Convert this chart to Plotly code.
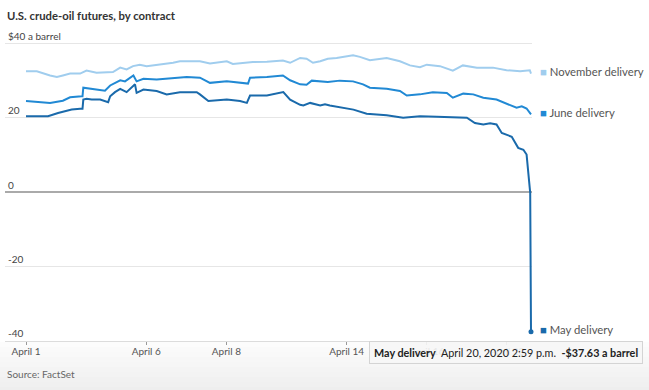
import plotly.graph_objects as go

# ---- data (x = trading-day index since April 1, 2020; y = $ per barrel) ----
nov_day = [0.00, 0.27, 0.60, 0.77, 0.92, 1.10, 1.35, 1.51, 1.76, 2.17, 2.35, 2.51, 2.67, 2.84, 3.01,
           3.34, 3.67, 3.84, 4.34, 4.59, 5.01, 5.16, 5.66, 6.01, 6.41, 6.59, 6.84, 7.00, 7.16, 7.34,
           7.53, 7.75, 8.16, 8.33, 8.58, 9.00, 9.33, 9.58, 9.83, 10.00, 10.33, 10.65, 10.90, 11.25,
           11.65, 11.99, 12.33, 12.57, 12.60]
nov_price = [32.5, 32.5, 31.4, 31.0, 31.4, 31.9, 31.9, 32.7, 32.1, 32.3, 33.5, 33.0, 33.9, 34.3, 33.9,
             34.3, 34.8, 35.2, 35.2, 34.6, 35.2, 34.5, 35.0, 35.1, 35.4, 34.8, 36.1, 35.9, 34.8, 35.2,
             35.9, 36.1, 36.8, 36.4, 35.5, 36.1, 35.2, 34.1, 33.6, 34.3, 33.9, 32.7, 34.1, 33.5,
             33.5, 32.8, 32.5, 32.8, 31.9]

jun_day = [0.00, 0.35, 0.60, 0.92, 1.10, 1.39, 1.41, 1.43, 1.72, 1.85, 1.97, 2.10, 2.22, 2.35, 2.47,
           2.59, 2.68, 2.76, 2.93, 3.26, 3.76, 4.01, 4.34, 4.59, 5.01, 5.34, 5.54, 5.59, 6.01, 6.41,
           6.59, 6.84, 7.00, 7.13, 7.34, 7.53, 7.83, 8.16, 8.41, 8.58, 9.00, 9.33, 9.50, 9.83, 10.15,
           10.50, 10.65, 10.91, 11.16, 11.41, 11.74, 11.99, 12.24, 12.37, 12.49, 12.60]
jun_price = [24.5, 24.2, 24.0, 24.6, 25.5, 25.8, 25.8, 28.1, 27.6, 27.4, 27.3, 28.7, 29.4, 30.1, 29.8,
             30.8, 31.4, 29.8, 30.5, 30.3, 30.8, 31.0, 30.8, 29.4, 29.8, 29.4, 29.2, 30.8, 31.0, 31.4,
             30.1, 29.0, 28.9, 30.0, 29.8, 29.6, 30.0, 29.8, 29.0, 28.1, 27.8, 27.2, 26.0, 26.3, 26.9,
             26.7, 25.4, 26.5, 26.3, 25.4, 24.9, 23.8, 22.7, 23.1, 22.5, 20.9]

may_day = [0.00, 0.55, 0.80, 1.14, 1.35, 1.41, 1.43, 1.51, 1.64, 1.85, 2.05, 2.10, 2.22, 2.35, 2.51,
           2.68, 2.72, 2.76, 2.93, 3.26, 3.51, 3.84, 4.26, 4.34, 4.55, 5.01, 5.34, 5.51, 5.59, 6.01,
           6.34, 6.42, 6.59, 6.84, 6.92, 7.09, 7.34, 7.46, 7.58, 7.83, 8.17, 8.50, 9.00, 9.41, 9.83,
           10.25, 10.66, 11.00, 11.20, 11.41, 11.58, 11.74, 11.87, 12.12, 12.28, 12.41, 12.49, 12.58,
           12.60]
may_price = [20.4, 20.4, 21.3, 22.2, 22.4, 22.4, 24.9, 25.1, 24.9, 24.9, 24.2, 25.8, 26.9, 27.8, 26.9,
             28.5, 29.0, 26.7, 27.6, 27.2, 26.3, 26.9, 26.9, 26.3, 24.5, 24.9, 24.5, 24.0, 26.0, 26.0,
             26.7, 26.9, 24.9, 23.5, 23.3, 24.0, 23.3, 23.6, 23.3, 22.9, 22.2, 21.1, 20.7, 20.0, 20.4,
             20.3, 20.1, 20.0, 18.6, 18.2, 18.5, 18.2, 15.9, 14.9, 11.9, 11.4, 10.1, -0.2,
             -37.63]

tick_days = [0, 3, 5, 8, 10, 12]
tick_labels = ["April 1", "April 6", "April 8", "April 14", "April 16", "April 20"]
y_tickvals = [-40, -20, 0, 20, 40]
y_ticktext = ["-40", "-20", "0", "20", "$40 a barrel"]

series_names = ["November delivery", "June delivery", "May delivery"]
series_colors = ["#a0cdee", "#2189d4", "#1a6aab"]
tooltip_time = "April 20, 2020 2:59 p.m."

FONT = "Lato"
PLOT_BOTTOM = 341.0
PLOT_H = 299.0


def paper_y(px):
    return (PLOT_BOTTOM - px) / PLOT_H


fig = go.Figure()
for name, xs, ys, col in zip(series_names,
                             [nov_day, jun_day, may_day],
                             [nov_price, jun_price, may_price],
                             series_colors):
    fig.add_trace(go.Scatter(x=xs, y=ys, mode="lines", name=name,
                             line=dict(color=col, width=2), hoverinfo="skip"))
    fig.add_annotation(x=1, xref="paper", y=ys[-1], yref="y", xanchor="left",
                       yanchor="middle", xshift=6, yshift=2, showarrow=False,
                       text=f"<span style='color:{col}'>■</span> {name}",
                       font=dict(family=FONT, size=11.3, color="#555"))

# highlighted point
fig.add_trace(go.Scatter(x=[may_day[-1]], y=[may_price[-1]], mode="markers",
                         marker=dict(color="#1a6aab", size=5), cliponaxis=False,
                         hoverinfo="skip"))

# bottom grey gradient bands (screenshot background)
n_bands = 10
for i in range(n_bands):
    y_top_px = 342 + i * 5
    y_bot_px = y_top_px + 5 if i < n_bands - 1 else 395
    g = int(252 - i * 1.5)
    fig.add_shape(type="rect", xref="paper", yref="paper", layer="below",
                  x0=-0.02, x1=1.25, y0=paper_y(y_bot_px), y1=paper_y(y_top_px),
                  line=dict(width=0), fillcolor=f"rgb({g},{g},{g})")

# tooltip (semi-transparent, like the original hover box)
val = may_price[-1]
fig.add_annotation(xref="paper", yref="paper", x=(643 - 5) / 527, y=paper_y(352.5),
                   xanchor="right", yanchor="middle", showarrow=False,
                   text=(f"<b>{series_names[2]}</b>&nbsp;&nbsp;{tooltip_time}&nbsp;&nbsp;"
                         f"<b>-${abs(val):.2f} a barrel</b>"),
                   font=dict(family=FONT, size=10.8, color="#222"),
                   bgcolor="rgba(246,246,246,0.9)", bordercolor="#d4d4d4",
                   borderwidth=1, borderpad=4)

# title & source
fig.add_annotation(xref="paper", yref="paper", x=0, y=paper_y(15), xanchor="left",
                   yanchor="middle", showarrow=False,
                   text="<b>U.S. crude-oil futures, by contract</b>",
                   font=dict(family=FONT, size=11.3, color="#333"))
fig.add_annotation(xref="paper", yref="paper", x=0, y=paper_y(374),
                   xanchor="left", yanchor="middle", showarrow=False,
                   text="Source: FactSet",
                   font=dict(family=FONT, size=10, color="#666"))

fig.update_layout(
    width=649, height=390,
    margin=dict(l=5, r=117, t=PLOT_BOTTOM - PLOT_H, b=390 - PLOT_BOTTOM, autoexpand=False),
    paper_bgcolor="white", plot_bgcolor="white",
    showlegend=False,
    hovermode=False,
    xaxis=dict(range=[-0.524, 12.625], tickvals=tick_days, ticktext=tick_labels,
               showgrid=False, zeroline=False, ticks="outside", ticklen=3,
               tickcolor="#999", showline=True, linecolor="#dcdcdc", linewidth=1,
               automargin=False, ticklabelstandoff=-2,
               tickfont=dict(family=FONT, size=10, color="#555"), fixedrange=True),
    yaxis=dict(range=[-40.1, 40.4], tickvals=y_tickvals, ticktext=y_ticktext,
               ticklabelposition="inside top", ticklabeloverflow="allow",
               showgrid=True, gridcolor="#e6e6e6", automargin=False,
               gridwidth=1, zeroline=True, zerolinecolor="#aaaaaa", zerolinewidth=2,
               tickfont=dict(family=FONT, size=10, color="#444"), fixedrange=True),
)

fig.write_html("out.html", config={"displayModeBar": False, "staticPlot": True},
               post_script="document.body.style.margin='0px';document.body.style.overflow='hidden';")
